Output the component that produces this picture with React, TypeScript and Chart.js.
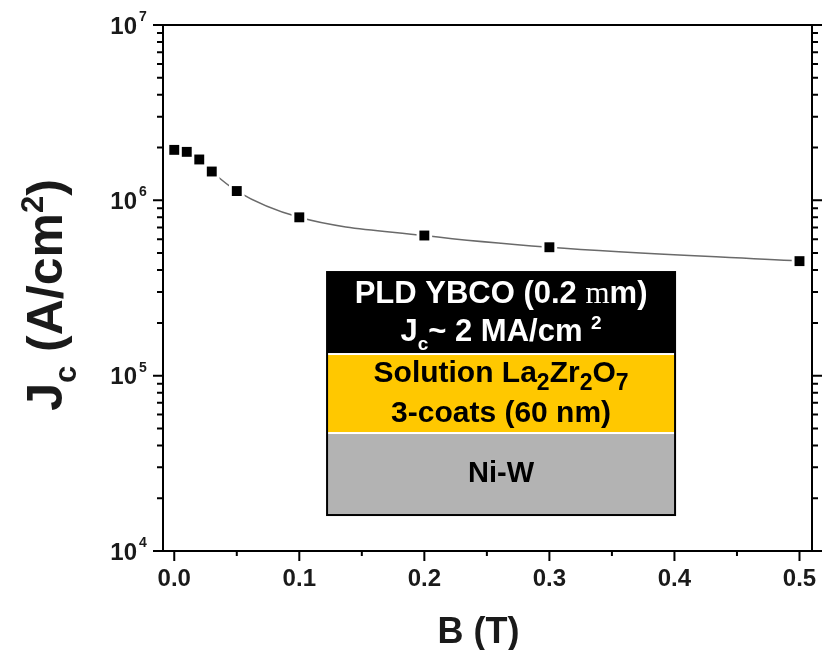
import { useEffect, useRef } from "react";
import { Chart, registerables } from "chart.js";

Chart.register(...registerables);

// Critical current density vs applied field
const fieldB = [0, 0.01, 0.02, 0.03, 0.05, 0.1, 0.2, 0.3, 0.5];
const currentJc = [1.94e6, 1.89e6, 1.71e6, 1.46e6, 1.13e6, 8.0e5, 6.3e5, 5.4e5, 4.5e5];

const xTickValues = [0, 0.1, 0.2, 0.3, 0.4, 0.5];
const xTickLabels = ["0.0", "0.1", "0.2", "0.3", "0.4", "0.5"];
const xMinorValues = [0.05, 0.15, 0.25, 0.35, 0.45];
const yDecadeExponents = [4, 5, 6, 7];
const yMinorMultipliers = [2, 3, 4, 5, 6, 7, 8, 9];

// Layer stack legend: text rows per layer
const layerFills = ["#000000", "#FFC800", "#B3B3B3"];
const layerTextColors = ["#FFFFFF", "#000000", "#000000"];

type Seg = { t: string; kind?: "sub" | "sup" | "serif" };
const layerRows: Seg[][][] = [
  [
    [{ t: "PLD YBCO (0.2 " }, { t: "m", kind: "serif" }, { t: "m)" }],
    [{ t: "J" }, { t: "c", kind: "sub" }, { t: "~ 2 MA/cm " }, { t: "2", kind: "sup" }],
  ],
  [
    [{ t: "Solution La" }, { t: "2", kind: "sub" }, { t: "Zr" }, { t: "2", kind: "sub" }, { t: "O" }, { t: "7", kind: "sub" }],
    [{ t: "3-coats (60 nm)" }],
  ],
  [[{ t: "Ni-W" }]],
];

const FONT = "'Liberation Sans', Arial, sans-serif";

function segFont(seg: Seg, size: number, scriptScale: number) {
  if (seg.kind === "serif") return `${size}px 'Liberation Serif', serif`;
  if (seg.kind === "sub" || seg.kind === "sup") return `bold ${Math.round(size * scriptScale)}px ${FONT}`;
  return `bold ${size}px ${FONT}`;
}

function drawRich(
  ctx: CanvasRenderingContext2D,
  segs: Seg[],
  cx: number,
  baseline: number,
  size: number,
  color: string,
  scriptScale = 0.62
) {
  let total = 0;
  const widths = segs.map((s) => {
    ctx.font = segFont(s, size, scriptScale);
    const w = ctx.measureText(s.t).width;
    total += w;
    return w;
  });
  let x = cx - total / 2;
  ctx.fillStyle = color;
  ctx.textAlign = "left";
  ctx.textBaseline = "alphabetic";
  segs.forEach((s, i) => {
    ctx.font = segFont(s, size, scriptScale);
    let dy = 0;
    if (s.kind === "sub") dy = size * 0.28;
    if (s.kind === "sup") dy = -size * 0.38;
    ctx.fillText(s.t, x, baseline + dy);
    x += widths[i];
  });
}

const decorPlugin = {
  id: "decor",
  afterDatasetsDraw(chart: any) {
    const ctx: CanvasRenderingContext2D = chart.ctx;
    const { left, right, top, bottom } = chart.chartArea;
    const xs = chart.scales.x;
    const ys = chart.scales.y;
    ctx.save();

    // layer stack box
    const bx = xs.getPixelForValue(0.1222);
    const by = ys.getPixelForValue(3.9e5);
    const bw = 348;
    const sections = [
      { y0: 0, y1: 81 },
      { y0: 83, y1: 160 },
      { y0: 162, y1: 243 },
    ];
    const baselines = [[31, 69], [110, 150], [210]];
    const fontSizes = [31, 30, 29];
    const scriptScales = [0.62, 0.75, 0.62];
    ctx.fillStyle = "#FFFFFF";
    ctx.fillRect(bx, by, bw, 243);
    sections.forEach((s, i) => {
      ctx.fillStyle = layerFills[i];
      ctx.fillRect(bx, by + s.y0, bw, s.y1 - s.y0);
    });
    ctx.strokeStyle = "#000";
    ctx.lineWidth = 2;
    ctx.strokeRect(bx, by, bw, 243);
    layerRows.forEach((rows, i) => {
      rows.forEach((segs, j) => {
        drawRich(ctx, segs, bx + bw / 2, by + baselines[i][j], fontSizes[i], layerTextColors[i], scriptScales[i]);
      });
    });

    // frame
    ctx.strokeStyle = "#000";
    ctx.lineWidth = 2;
    ctx.strokeRect(left, top, right - left, bottom - top);

    // x ticks (outward, bottom)
    ctx.beginPath();
    xTickValues.forEach((v) => {
      const px = xs.getPixelForValue(v);
      ctx.moveTo(px, bottom);
      ctx.lineTo(px, bottom + 10);
    });
    xMinorValues.forEach((v) => {
      const px = xs.getPixelForValue(v);
      ctx.moveTo(px, bottom);
      ctx.lineTo(px, bottom + 5);
    });
    ctx.stroke();

    // y ticks (outward, left and right)
    ctx.beginPath();
    yDecadeExponents.forEach((e) => {
      const py = ys.getPixelForValue(Math.pow(10, e));
      ctx.moveTo(left - 10, py);
      ctx.lineTo(left, py);
      ctx.moveTo(right, py);
      ctx.lineTo(right + 10, py);
      if (e < 7) {
        yMinorMultipliers.forEach((m) => {
          const pm = ys.getPixelForValue(m * Math.pow(10, e));
          ctx.moveTo(left - 6, pm);
          ctx.lineTo(left, pm);
          ctx.moveTo(right, pm);
          ctx.lineTo(right + 6, pm);
        });
      }
    });
    ctx.stroke();

    // tick labels
    ctx.fillStyle = "#1a1a1a";
    ctx.font = `bold 24px ${FONT}`;
    ctx.textAlign = "center";
    ctx.textBaseline = "middle";
    xTickValues.forEach((v, i) => {
      ctx.fillText(xTickLabels[i], xs.getPixelForValue(v), 579);
    });
    yDecadeExponents.forEach((e) => {
      const py = ys.getPixelForValue(Math.pow(10, e));
      ctx.font = `bold 24px ${FONT}`;
      ctx.textAlign = "right";
      ctx.textBaseline = "middle";
      ctx.fillText("10", left - 26, py + 2);
      ctx.font = `bold 14px ${FONT}`;
      ctx.textAlign = "left";
      ctx.fillText(String(e), left - 24, py - 8);
    });

    // axis titles
    ctx.font = `bold 36px ${FONT}`;
    ctx.textAlign = "center";
    ctx.textBaseline = "alphabetic";
    ctx.fillText("B (T)", (left + right) / 2 - 9, 643);

    ctx.translate(62, 295);
    ctx.rotate(-Math.PI / 2);
    drawRich(ctx, [{ t: "J" }, { t: "c", kind: "sub" }, { t: " (A/cm" }, { t: "2", kind: "sup" }, { t: ")" }], 0, 0, 50, "#1a1a1a");
    ctx.restore();
  },
};

export default function App() {
  const canvasRef = useRef<HTMLCanvasElement>(null);

  useEffect(() => {
    if (!canvasRef.current) return;
    const pts = fieldB.map((b, i) => ({ x: b, y: currentJc[i] }));
    const chart = new Chart(canvasRef.current, {
      type: "scatter",
      data: {
        datasets: [
          {
            data: pts,
            pointStyle: "rect",
            pointRadius: 7,
            backgroundColor: "#000",
            borderWidth: 0,
            order: 0,
          },
          {
            data: pts,
            pointStyle: "rect",
            pointRadius: 11,
            backgroundColor: "#fff",
            borderWidth: 0,
            order: 1,
          },
          {
            data: pts,
            showLine: true,
            pointRadius: 0,
            borderColor: "#6a6a6a",
            borderWidth: 1.5,
            cubicInterpolationMode: "monotone",
            order: 2,
          },
        ],
      },
      options: {
        responsive: false,
        animation: false,
        devicePixelRatio: 1,
        layout: { padding: { left: 163, right: 14, top: 25, bottom: 99 } },
        scales: {
          x: { type: "linear", min: -0.009, max: 0.51, display: false },
          y: { type: "logarithmic", min: 1e4, max: 1e7, display: false },
        },
        plugins: { legend: { display: false }, tooltip: { enabled: false } },
      },
      plugins: [decorPlugin],
    });
    return () => chart.destroy();
  }, []);

  return (
    <div style={{ position: "fixed", left: 0, top: 0, width: 826, height: 650, background: "#fff" }}>
      <canvas ref={canvasRef} width={826} height={650} style={{ display: "block" }} />
    </div>
  );
}
